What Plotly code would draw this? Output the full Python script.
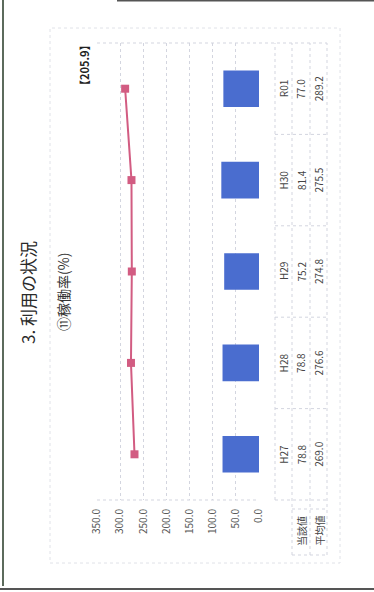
import plotly.graph_objects as go

# 稼働率 (%) by fiscal year
categories = ["H27", "H28", "H29", "H30", "R01"]
current_values = [78.8, 78.8, 75.2, 81.4, 77.0]   # 当該値
average_values = [269.0, 276.6, 274.8, 275.5, 289.2]  # 平均値
value_ticks = [0, 50, 100, 150, 200, 250, 300, 350]
reference_value = 205.9

# page geometry (pixels) used to place the decorations around the plot
W, H = 374, 592
PL, PR, PT, PB = 97, 259, 43, 500   # plot area edges


def px(x):
    return (x - PL) / (PR - PL)


def py(y):
    return (PB - y) / (PB - PT)


FONT = "Noto Sans CJK JP"
GRID = "#d3d5df"
TXT = "#444444"

fig = go.Figure()

fig.add_trace(go.Bar(
    x=current_values, y=categories, orientation="h",
    width=0.4, marker=dict(color="#4a6dcf", line=dict(width=0)),
    hoverinfo="skip",
))
fig.add_trace(go.Scatter(
    x=average_values, y=categories, mode="lines+markers",
    line=dict(color="#d25c82", width=2),
    marker=dict(symbol="square", size=8, color="#d25c82"),
    hoverinfo="skip",
))

shapes = []


def seg(x0, y0, x1, y1, color=GRID, width=1, dash="dot", xref="paper", yref="paper"):
    shapes.append(dict(type="line", x0=x0, y0=y0, x1=x1, y1=y1, xref=xref, yref=yref,
                       line=dict(color=color, width=width, dash=dash), layer="below"))


# plot frame top / bottom
seg(px(PL), 1, px(327), 1)
seg(px(PL), 0, px(PR), 0)

# data table grid
seg(px(275), 0, px(275), 1)
for xc in (292, 310, 327):
    seg(px(xc), py(555), px(xc), 1)
seg(px(275), 0, px(327), 0)
seg(px(292), py(555), px(327), py(555))
seg(px(292), py(509), px(327), py(509))
for k in range(1, len(categories)):
    b = k - 0.5
    shapes.append(dict(type="line", xref="paper", yref="y", x0=px(275), x1=px(327),
                       y0=b, y1=b, line=dict(color=GRID, width=1, dash="dot"), layer="below"))

# outer chart frame
shapes.append(dict(type="rect", xref="paper", yref="paper",
                   x0=px(50), x1=px(340), y0=py(563), y1=py(28),
                   line=dict(color="#e0e2e8", width=1, dash="dot"), layer="below"))

# page edges
seg(px(3), py(0), px(3), py(586), color="#5c6b5c", width=2, dash="solid")
seg(px(117), py(0.5), px(W), py(0.5), color="#555555", width=2, dash="solid")
seg(px(0), py(589), px(W), py(589), color="#555555", width=2, dash="solid")

annotations = []


def label(text, x, y, size=10, yref="paper", color=TXT, bold=False):
    annotations.append(dict(
        text=f"<b>{text}</b>" if bold else text, x=x, y=y, xref="paper", yref=yref,
        textangle=-90, showarrow=False, xanchor="center", yanchor="middle",
        font=dict(family=FONT, size=size, color=color),
    ))


# data table contents
for cat, cv, av in zip(categories, current_values, average_values):
    label(cat, px(283.5), cat, yref="y")
    label(f"{cv:.1f}", px(301), cat, yref="y")
    label(f"{av:.1f}", px(318.5), cat, yref="y")
label("当該値", px(301), py(531))
label("平均値", px(318.5), py(531))

# titles
label("3. 利用の状況", px(27), py(293), size=17, color="#2a2a2a")
label("⑪稼働率(%)", px(63), py(292), size=14, color="#333333")
label(f"【{reference_value:.1f}】", px(84), py(65), size=11, color="#222222", bold=True)

fig.update_layout(
    width=W, height=H,
    margin=dict(l=PL, r=W - PR, t=PT, b=H - PB),
    paper_bgcolor="white", plot_bgcolor="white",
    showlegend=False, hovermode=False,
    shapes=shapes, annotations=annotations,
    font=dict(family=FONT, color=TXT),
    xaxis=dict(
        range=[350, 0], tickvals=value_ticks,
        ticktext=[f"{v:.1f}" for v in value_ticks],
        tickangle=-90, tickfont=dict(size=10, color="#555555"),
        showgrid=True, gridcolor=GRID, griddash="dot", gridwidth=1,
        zeroline=False, showline=False, ticks="", ticklabelstandoff=6,
        fixedrange=True,
    ),
    yaxis=dict(
        categoryorder="array", categoryarray=categories,
        range=[-0.5, len(categories) - 0.5],
        showticklabels=False, showgrid=False, zeroline=False, ticks="",
        fixedrange=True,
    ),
)

fig.write_html("out.html", config={"displayModeBar": False})
